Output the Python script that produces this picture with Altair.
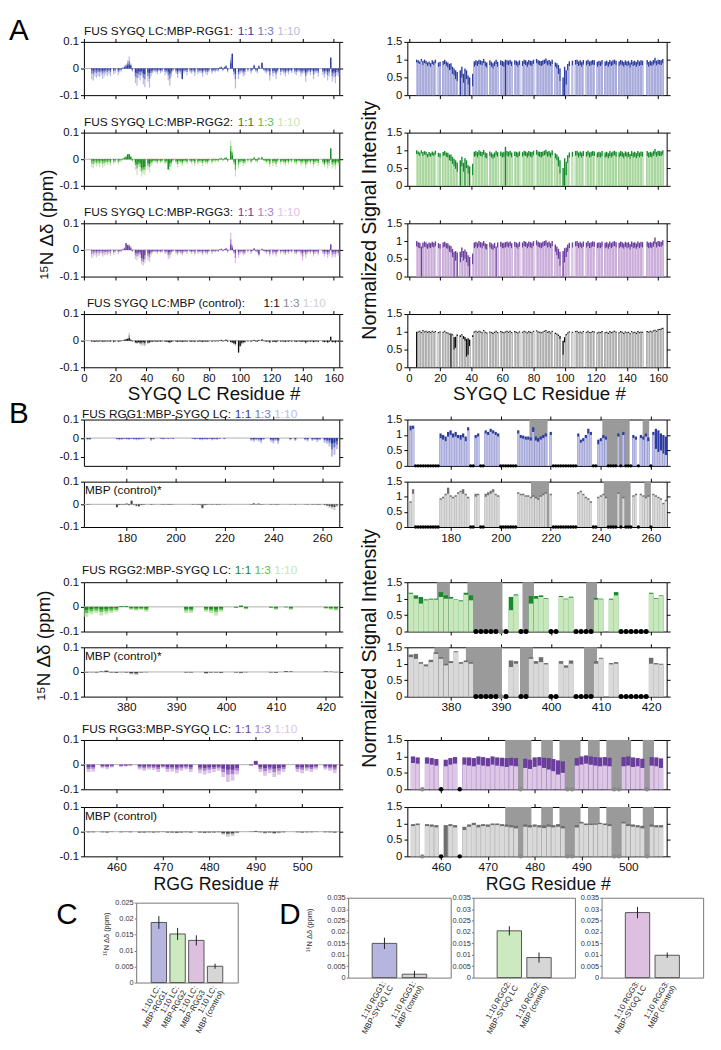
import altair as alt
import pandas as pd

N = None
FONT = "Liberation Sans"
W, H = 628, 954

# ---------------- colours (1:10 light, 1:3 mid, 1:1 dark) ----------------
RGG1_C = ["#babbe3", "#6f79c9", "#2b3b9f"]
RGG2_C = ["#c5e6b6", "#5cbf4a", "#178a2c"]
RGG3_C = ["#dcc2e5", "#a57fcc", "#6a3d9e"]
CTRL_C = ["#cfcfcf", "#8c8c8c", "#111111"]
INT_C = {"r1": ["#c3c3e7", "#2b3b9f"], "r2": ["#c8e7ba", "#178a2c"],
         "r3": ["#dec6e6", "#6a3d9e"], "c": ["#d5d5d5", "#111111"]}
B_CTRL_CSP = ["#c8c8c8", "#444444"]
B_CTRL_INT = ["#d9d9d9", "#6e6e6e"]
REGION_C = "#9a9a9a"

# ---------------- Panel A data (residues 5..163; ppm x 1000 / intensity x 100) ----------------
A_RES = list(range(5, 164))
A_TICKS = [0, 20, 40, 60, 80, 100, 120, 140, 160]

A1_CSP_L = [-40,-45,-30,-35,-28,-32,-25,-38,-30,-22,
 -28,-20,-30,N,-22,-18,N,-25,-15,-10,
 5,12,18,30,45,20,-12,N,-55,-65,
 -35,-45,-25,-60,-70,N,-50,-72,-30,-18,
 -12,-15,-22,-10,-18,-14,N,-25,-18,-45,
 -65,-30,-12,N,-20,-35,-15,-22,-40,-18,
 -12,-25,N,-15,-20,-12,-28,N,-22,-15,
 -18,-30,-12,-20,-25,-15,N,-20,-10,-15,
 -8,-12,5,8,-10,6,12,-15,N,40,
 55,-25,-75,N,-40,-20,-15,-30,-25,N,
 -12,N,-20,-8,15,-12,-18,12,N,20,
 -8,-15,-20,-12,-45,N,-30,-18,-40,-15,
 N,-25,-12,-20,-30,-15,-22,-10,-18,N,
 -20,-25,-15,-12,-30,-20,-18,-50,-22,-15,
 -25,-12,-40,-20,-15,-30,N,N,-25,-35,
 -20,-45,-30,40,-50,-35,-55,-25,-30]
A1_CSP_M = [-18,-22,-14,-17,-13,-15,-12,-18,-14,-10,
 -13,-9,-14,N,-10,-8,N,-12,-7,-5,
 3,7,12,20,28,14,-7,N,-30,-35,
 -20,-25,-14,-35,-40,N,-28,-38,-16,-10,
 -7,-8,-12,-6,-10,-8,N,-13,-10,-25,
 -38,-16,-7,N,-11,-20,-8,-12,-40,-10,
 -7,-13,N,-8,-11,-7,-15,N,-12,-8,
 -10,-16,-7,-11,-13,-8,N,-11,-6,-8,
 -4,-7,4,6,-6,5,10,-8,N,30,
 55,-14,-40,N,-22,-11,-8,-16,-13,N,
 -7,N,-11,-4,12,-7,-10,10,N,22,
 -4,-8,-11,-7,-25,N,-16,-10,-22,-8,
 N,-13,-7,-11,-16,-8,-12,-6,-10,N,
 -11,-13,-8,-7,-16,-11,-10,-28,-12,-8,
 -13,-7,-22,-11,-8,-16,N,N,-13,-19,
 -11,-25,-16,40,-28,-19,-30,-13,-16]
A1_CSP_D = [-5,-8,-4,-6,-5,-7,-4,-8,-6,-4,
 -5,-3,-6,N,-4,-3,N,-5,-3,-2,
 2,4,8,12,15,10,-4,N,-15,-18,
 -10,-12,-8,-20,-22,N,-15,-18,-8,-5,
 -3,-4,-6,-3,-5,-4,N,-6,-5,-12,
 -20,-8,-3,N,-5,-10,-4,-6,-38,-5,
 -3,-6,N,-4,-5,-3,-7,N,-5,-4,
 -5,-8,-3,-5,-6,-4,N,-5,-3,-4,
 -2,-3,3,5,-3,4,8,-4,N,20,
 55,-8,-20,N,-12,-5,-4,-8,-6,N,
 -3,N,-5,-2,10,-3,-5,8,N,22,
 -2,-4,-5,-3,-10,N,-8,-5,-12,-4,
 N,-6,-3,-5,-8,-4,-6,-3,-5,N,
 -5,-6,-4,-3,-8,-5,-4,-15,-6,-4,
 -6,-3,-10,-5,-4,-8,N,N,-6,-10,
 -5,-12,-8,40,-15,-10,-15,-6,-8]

A2_CSP_L = [-30,-35,-20,-28,-22,-30,-18,-32,-25,-20,
 -22,-18,-25,N,-20,-15,N,-20,-12,-8,
 5,10,15,20,18,12,-10,N,-40,-60,
 -30,-45,-65,-55,-60,N,-40,-50,-25,-15,
 -10,-12,-18,-8,-15,-12,N,-20,-15,-40,
 -45,-25,-10,N,-18,-30,-12,-18,-25,-15,
 -10,-20,N,-12,-18,-10,-25,N,-20,-12,
 -15,-25,-10,-18,-20,-12,N,-18,-8,-12,
 -6,-10,4,6,-8,5,10,-12,N,70,
 35,-20,-65,N,-35,-18,-12,-25,-20,N,
 -10,N,-18,-6,10,-10,-15,8,N,10,
 -6,-12,-18,-10,-30,N,-25,-15,-30,-12,
 N,-20,-10,-18,-25,-12,-20,-8,-15,N,
 -18,-22,-12,-10,-25,-18,-15,-35,-20,-12,
 -20,-10,-30,-18,-12,-25,N,N,-20,-30,
 -18,-35,-25,40,-35,-28,-38,-20,-25]
A2_CSP_M = [-15,-18,-10,-14,-11,-15,-9,-16,-13,-10,
 -11,-9,-13,N,-10,-8,N,-10,-6,-4,
 3,6,10,19,19,10,-6,N,-22,-35,
 -18,-28,-45,-40,-40,N,-25,-30,-15,-9,
 -6,-7,-11,-5,-9,-7,N,-12,-9,-39,
 -28,-15,-6,N,-10,-18,-7,-10,-15,-8,
 -6,-11,N,-7,-10,-6,-14,N,-12,-7,
 -9,-14,-6,-10,-12,-7,N,-10,-4,-6,
 -4,-6,3,4,-4,4,7,-7,N,50,
 25,-12,-40,N,-20,-10,-7,-14,-12,N,
 -6,N,-10,-4,7,-6,-8,6,N,8,
 -4,-7,-10,-6,-18,N,-14,-8,-18,-7,
 N,-11,-6,-10,-14,-7,-11,-4,-8,N,
 -10,-12,-7,-6,-14,-10,-8,-20,-11,-7,
 -11,-6,-18,-10,-7,-14,N,N,-11,-20,
 -10,-20,-14,40,-20,-15,-22,-11,-14]
A2_CSP_D = [-5,-6,-3,-5,-4,-6,-3,-6,-5,-4,
 -4,-3,-5,N,-4,-3,N,-4,-2,-1,
 2,4,8,18,20,8,-3,N,-12,-20,
 -10,-15,-35,-30,-28,N,-15,-18,-8,-5,
 -3,-4,-6,-2,-5,-4,N,-6,-5,-38,
 -15,-8,-3,N,-5,-9,-4,-5,-8,-4,
 -3,-6,N,-4,-5,-3,-7,N,-6,-3,
 -4,-7,-3,-5,-6,-3,N,-5,-2,-3,
 -2,-3,2,3,-2,3,5,-3,N,30,
 15,-6,-20,N,-10,-5,-3,-7,-6,N,
 -3,N,-5,-2,5,-3,-4,4,N,6,
 -2,-3,-5,-3,-8,N,-7,-4,-9,-3,
 N,-6,-3,-5,-7,-3,-6,-2,-4,N,
 -5,-6,-3,-3,-7,-5,-4,-10,-6,-3,
 -6,-3,-8,-5,-3,-7,N,N,-6,-15,
 -5,-10,-7,40,-10,-8,-12,-6,-7]

A3_CSP_L = [-30,-25,-20,-28,-22,-20,-15,-25,-20,-18,
 -20,-15,-22,N,-18,-12,N,-15,-10,-8,
 5,10,25,20,22,15,-8,N,-35,-40,
 -25,-30,-55,-58,-50,N,-40,-45,-20,-12,
 -8,-10,-15,-8,-12,-10,N,-15,-12,-35,
 -30,-15,-8,N,-15,-20,-10,-15,-20,-12,
 -8,-15,N,-10,-15,-8,-20,N,-15,-10,
 -12,-20,-8,-15,-18,-10,N,-15,-6,-10,
 -5,-8,3,5,-6,4,8,-10,N,65,
 20,-15,-50,N,-30,-15,-10,-20,-18,N,
 -8,N,-15,-5,8,-8,-12,-25,N,5,
 -5,-10,-15,-8,-25,N,-20,-12,-25,-10,
 N,-15,-8,-15,-20,-10,-15,-6,-12,N,
 -15,-18,-10,-8,-20,-40,-12,-30,-15,-10,
 -15,-8,-25,-15,-10,-20,N,N,-15,-25,
 -15,-30,-20,20,-30,-25,-28,-15,-22]
A3_CSP_M = [-14,-12,-10,-13,-10,-10,-7,-12,-10,-9,
 -10,-7,-11,N,-9,-6,N,-8,-5,-4,
 3,7,25,19,18,10,-5,N,-20,-24,
 -15,-18,-42,-45,-35,N,-24,-28,-12,-7,
 -5,-6,-9,-5,-7,-6,N,-9,-7,-20,
 -18,-9,-5,N,-9,-12,-6,-9,-12,-7,
 -5,-9,N,-6,-9,-5,-12,N,-9,-6,
 -7,-12,-5,-9,-11,-6,N,-9,-4,-6,
 -3,-5,2,4,-4,3,6,-6,N,40,
 14,-9,-30,N,-18,-9,-6,-12,-11,N,
 -5,N,-9,-3,6,-5,-7,-20,N,4,
 -3,-6,-9,-5,-15,N,-12,-7,-15,-6,
 N,-9,-5,-9,-12,-6,-9,-4,-7,N,
 -9,-11,-6,-5,-12,-25,-7,-18,-9,-6,
 -9,-5,-15,-9,-6,-12,N,N,-9,-15,
 -9,-18,-12,20,-18,-14,-16,-9,-13]
A3_CSP_D = [-4,-3,-3,-4,-3,-3,-2,-4,-3,-3,
 -3,-2,-3,N,-3,-2,N,-2,-2,-1,
 2,5,25,18,15,6,-2,N,-10,-12,
 -8,-10,-30,-35,-20,N,-12,-14,-6,-4,
 -2,-3,-4,-2,-3,-3,N,-4,-3,-10,
 -8,-4,-2,N,-4,-5,-3,-4,-5,-3,
 -2,-4,N,-3,-4,-2,-5,N,-4,-3,
 -3,-5,-2,-4,-5,-3,N,-4,-2,-3,
 -1,-2,2,3,-2,2,4,-3,N,20,
 8,-4,-12,N,-8,-4,-3,-5,-5,N,
 -2,N,-4,-2,4,-2,-3,-15,N,3,
 -2,-3,-4,-2,-7,N,-5,-3,-7,-3,
 N,-4,-2,-4,-5,-3,-4,-2,-3,N,
 -4,-5,-3,-2,-5,-10,-3,-8,-4,-3,
 -4,-2,-7,-4,-3,-5,N,N,-4,-7,
 -4,-8,-5,20,-8,-6,-7,-4,-6]

A4_CSP_L = [-5,-4,-6,-3,-5,-4,-3,-6,-5,-3,
 -4,-3,-5,N,-8,-4,N,-5,-3,-2,
 2,5,8,10,30,5,-3,N,-10,-12,
 -8,-15,-20,-18,-22,N,-12,-10,-5,-4,
 -3,-4,-5,-3,-4,-3,N,-5,-4,-8,
 -10,-6,-3,N,-4,-6,-3,-5,-6,-4,
 -3,-5,N,-4,-5,-3,-6,N,-5,-3,
 -4,-6,-3,-5,-5,-3,N,-4,-2,-3,
 -2,-3,2,3,-3,2,4,-4,N,-8,
 -10,-15,-20,N,-35,-25,-18,-12,-8,N,
 -3,N,-4,-2,3,-3,-4,3,N,5,
 -2,-3,-5,-3,-10,N,-6,-4,-8,-3,
 N,-5,-3,-4,-6,-3,-5,-2,-4,N,
 -5,-6,-3,-3,-6,-4,-4,-12,-5,-3,
 -5,-3,-8,-4,-3,-6,N,N,-5,-8,
 -4,-10,-6,15,-8,-6,-10,-4,-6]
A4_CSP_M = [-4,-3,-5,-3,-4,-3,-3,-5,-4,-3,
 -3,-3,-4,N,-6,-3,N,-4,-3,-2,
 2,4,6,8,20,4,-3,N,-8,-10,
 -7,-12,-12,-10,-15,N,-10,-8,-4,-4,
 -3,-4,-4,-3,-4,-3,N,-4,-4,-6,
 -8,-5,-3,N,-4,-5,-3,-4,-5,-4,
 -3,-4,N,-4,-4,-3,-5,N,-4,-3,
 -4,-5,-3,-4,-4,-3,N,-4,-2,-3,
 -2,-3,2,3,-3,2,4,-4,N,-6,
 -8,-12,-15,N,-40,-22,-12,-9,-6,N,
 -3,N,-4,-2,3,-3,-4,3,N,5,
 -2,-3,-4,-3,-8,N,-5,-4,-6,-3,
 N,-4,-3,-4,-5,-3,-4,-2,-4,N,
 -4,-5,-3,-3,-5,-4,-4,-10,-4,-3,
 -4,-3,-6,-4,-3,-5,N,N,-4,-6,
 -4,-8,-5,15,-6,-5,-8,-4,-5]
A4_CSP_D = [-3,-2,-4,-2,-3,-2,-2,-3,-3,-2,
 -2,-2,-3,N,-4,-2,N,-3,-2,-1,
 1,3,5,6,10,3,-2,N,-6,-8,
 -5,-8,-6,-5,-8,N,-7,-6,-3,-3,
 -2,-3,-3,-2,-3,-2,N,-3,-3,-5,
 -6,-4,-2,N,-3,-4,-2,-3,-4,-3,
 -2,-3,N,-3,-3,-2,-4,N,-3,-2,
 -3,-4,-2,-3,-3,-2,N,-3,-1,-2,
 -1,-2,1,2,-2,1,3,-3,N,-5,
 -6,-10,-12,N,-45,-20,-8,-6,-5,N,
 -2,N,-3,-1,2,-2,-3,2,N,4,
 -1,-2,-3,-2,-6,N,-4,-3,-5,-2,
 N,-3,-2,-3,-4,-2,-3,-1,-3,N,
 -3,-4,-2,-2,-4,-3,-3,-7,-3,-2,
 -3,-2,-5,-3,-2,-4,N,N,-3,-5,
 -3,-6,-4,15,-5,-4,-6,-3,-4]

A1_INT_L = [92,90,88,95,85,90,88,82,86,80,
 88,85,90,N,80,82,N,85,88,83,
 78,70,72,60,55,45,40,N,0,50,
 35,0,45,30,0,N,25,80,85,82,
 88,86,84,90,82,78,N,85,80,75,
 82,88,80,N,85,82,80,0,86,84,
 88,82,N,86,84,80,85,N,82,88,
 85,80,86,84,82,88,N,90,86,84,
 82,85,88,90,84,86,82,88,N,80,
 75,60,40,N,0,0,30,70,82,N,
 84,N,86,88,82,85,80,86,N,84,
 88,82,84,86,85,N,80,84,82,86,
 N,82,84,80,86,82,85,88,84,N,
 82,86,84,80,85,82,84,78,86,82,
 84,80,86,82,85,84,N,N,86,80,
 84,82,86,90,84,88,86,85,90]
A1_INT_D = [100,98,95,102,96,100,97,92,95,90,
 98,95,100,N,92,94,N,96,100,95,
 92,88,90,80,75,70,65,N,70,80,
 60,75,70,55,50,N,60,95,98,96,
 100,98,96,102,95,92,N,98,94,90,
 95,100,94,N,98,96,94,100,98,97,
 100,95,N,98,97,94,98,N,96,100,
 98,94,99,97,96,100,N,102,98,97,
 96,98,100,103,97,99,95,100,N,92,
 90,85,75,N,50,80,70,88,95,N,
 97,N,99,100,95,98,94,99,N,97,
 100,95,97,99,98,N,94,97,95,99,
 N,95,97,93,99,95,98,100,97,N,
 95,99,97,93,98,95,97,92,99,95,
 97,93,99,95,98,97,N,N,99,93,
 97,95,99,105,97,100,99,98,102]
A2_INT_L = [90,88,85,92,84,88,86,80,85,82,
 86,84,88,N,82,80,N,84,86,82,
 80,72,70,62,55,48,40,N,0,55,
 40,0,50,35,0,N,30,82,85,80,
 86,84,82,88,80,78,N,84,80,76,
 80,86,82,N,84,80,82,0,85,82,
 86,80,N,84,82,80,84,N,82,86,
 84,80,85,82,80,86,N,88,84,82,
 80,84,86,88,82,85,80,86,N,78,
 72,55,35,N,0,0,30,65,80,N,
 82,N,85,86,80,84,80,84,N,82,
 86,80,82,85,84,N,80,82,80,84,
 N,80,82,78,84,80,84,86,82,N,
 80,84,82,78,84,80,82,76,84,80,
 82,78,84,80,84,82,N,N,84,80,
 82,80,84,88,82,86,84,84,88]
A2_INT_D = [100,97,94,100,95,98,96,90,95,92,
 97,94,99,N,93,92,N,95,98,94,
 93,88,88,82,76,72,66,N,72,82,
 65,78,72,58,55,N,62,96,98,95,
 100,97,95,101,94,92,N,97,94,90,
 94,99,95,N,97,94,96,110,98,96,
 99,94,N,97,96,94,97,N,95,99,
 97,94,98,96,95,99,N,101,97,96,
 95,97,99,102,96,98,94,100,N,92,
 88,82,72,N,50,78,68,86,94,N,
 96,N,98,99,94,97,94,98,N,96,
 99,94,96,98,97,N,94,96,94,98,
 N,94,96,92,98,94,97,99,96,N,
 94,98,96,92,97,94,96,90,98,94,
 96,92,98,94,97,96,N,N,98,94,
 96,94,98,104,96,99,98,97,100]
A3_INT_L = [85,82,80,0,80,84,82,78,82,80,
 84,82,85,N,80,78,N,82,84,80,
 78,70,68,55,0,45,0,N,40,55,
 45,50,40,30,0,N,35,80,84,80,
 85,82,80,86,78,76,N,82,78,75,
 80,0,82,N,84,80,80,82,85,82,
 86,80,N,84,82,78,84,N,82,86,
 84,80,85,82,80,86,N,88,84,82,
 80,84,86,88,82,85,80,86,N,70,
 60,50,30,N,0,40,55,70,80,N,
 82,N,85,86,80,84,80,84,N,82,
 86,80,82,85,84,N,80,82,80,84,
 N,80,82,78,84,80,84,86,82,N,
 80,84,82,78,84,80,82,76,84,80,
 82,78,84,80,84,82,N,N,84,80,
 82,80,84,92,82,86,84,84,88]
A3_INT_D = [100,97,95,85,95,99,96,92,96,94,
 98,95,99,N,94,92,N,96,98,94,
 94,88,86,78,70,72,68,N,70,82,
 72,76,70,60,55,N,65,96,98,95,
 100,97,95,100,94,92,N,97,94,90,
 95,85,96,N,98,95,95,97,99,96,
 99,94,N,98,96,93,98,N,96,100,
 98,94,99,97,95,100,N,102,98,96,
 95,98,100,102,96,99,94,100,N,90,
 85,78,70,N,72,80,82,90,95,N,
 96,N,99,100,95,98,94,99,N,96,
 100,95,97,99,98,N,95,97,95,99,
 N,95,97,93,99,95,98,100,97,N,
 95,99,97,93,98,95,97,92,99,95,
 97,93,99,95,98,97,N,N,99,95,
 97,95,99,110,97,100,99,98,102]
A4_INT_L = [0,98,100,96,102,98,100,97,99,96,
 100,97,99,N,96,98,N,97,100,96,
 95,92,0,90,50,55,88,N,85,90,
 80,75,30,35,60,N,85,98,100,97,
 100,98,96,102,97,95,N,98,96,94,
 97,100,96,N,99,97,96,98,100,97,
 100,96,N,99,97,95,98,N,97,100,
 98,95,99,97,96,100,N,101,98,97,
 96,98,100,102,97,99,95,100,N,94,
 92,88,80,N,35,70,90,95,98,N,
 97,N,99,100,96,98,95,99,N,97,
 100,96,97,99,98,N,95,97,96,99,
 N,96,97,94,99,96,98,100,97,N,
 96,99,97,94,98,96,97,93,99,96,
 97,94,99,96,98,97,N,N,99,97,
 100,98,101,103,100,104,105,106,108]
A4_INT_D = [100,101,103,99,105,101,103,100,102,99,
 103,100,102,N,99,101,N,100,103,99,
 98,95,95,93,85,86,92,N,90,93,
 88,85,80,82,78,N,90,101,103,100,
 103,101,99,105,100,98,N,101,99,97,
 100,103,99,N,102,100,99,101,103,100,
 103,99,N,102,100,98,101,N,100,103,
 101,98,102,100,99,103,N,104,101,100,
 99,101,103,105,100,102,98,103,N,97,
 95,92,88,N,75,85,94,98,101,N,
 100,N,102,103,99,101,98,102,N,100,
 103,99,100,102,101,N,98,100,99,102,
 N,99,100,97,102,99,101,103,100,N,
 99,102,100,97,101,99,100,96,102,99,
 100,97,102,99,101,100,N,N,102,100,
 103,101,104,106,103,107,108,109,111]

# ---------------- Panel B data ----------------
RGG1_RES = [164, 165,
 176, 177, 178, 179, 180, 181, 182, 183, 184, 185, 186, 187,
 190, 191,
 194, 195, 196, 197, 198, 199,
 207, 208, 209, 210, 211, 212, 213, 214, 215, 216, 217, 218,
 220,
 231, 232, 233, 234, 235, 236,
 239, 240, 241, 242,
 247, 249,
 253, 254,
 256, 257, 258, 259,
 261, 262, 263, 264, 265, 266]
RGG1_CSP_L = [-12, -10, -8, -12, -10, -6, -8, -10, -5, -8, -12, -10, -8, -6, -15, -8,
 -5, -8, -4, -6, -3, -5, -5, -8, -6, -10, -12, -8, -10, -6, -12, -8, -10, -5, -6,
 -15, -20, -12, -18, -25, -10, -20, -28, -15, -30, -12, -15, -12, -18,
 -15, -10, -20, -12, -25, -30, -45, -100, -90, -60]
RGG1_CSP_M = [-6, -5, -4, -6, -5, -3, -4, -5, -3, -4, -6, -5, -4, -3, -8, -4,
 -3, -4, -2, -3, -2, -3, -3, -4, -3, -5, -6, -4, -5, -3, -6, -4, -5, -3, -3,
 -8, -10, -6, -9, -12, -5, -10, -14, -8, -15, -6, -8, -6, -9,
 -8, -5, -10, -6, -12, -15, -25, -60, -50, -35]
RGG1_CSP_D = [-4, -3, -3, -4, -3, -2, -3, -3, -2, -3, -4, -3, -3, -2, -4, -3,
 -2, -3, -1, -2, -1, -2, -2, -3, -2, -3, -4, -3, -3, -2, -4, -3, -3, -2, -2,
 -4, -5, -3, -4, -6, -3, -5, -7, -4, -8, -3, -4, -3, -5,
 -4, -3, -5, -3, -6, -8, -12, -30, -25, -15]
MBP1_CSP_L = [-3, -2, -15, -5, -3, -4, 5, -6, 20, -4, -10, -12, -5, -3, -3, -2,
 -2, -3, -2, -3, -4, -2, -3, -2, -4, -3, -20, -5, -3, -2, -3, -2, -4, -3, -2,
 -3, 5, -2, 4, -3, -2, -3, -2, -4, -3, -2, -3, -2, -3,
 -3, -2, -4, -3, -5, -8, -15, -20, -25, -10]
MBP1_CSP_D = [-2, -1, -12, -3, -2, -2, 3, -3, 15, -2, -6, -8, -3, -2, -2, -1,
 -1, -2, -1, -2, -2, -1, -2, -1, -2, -2, -15, -3, -2, -1, -2, -1, -2, -2, -1,
 -2, 4, -1, 3, -2, -1, -2, -1, -2, -2, -1, -2, -1, -2,
 -2, -1, -2, -2, -3, -5, -8, -10, -12, -5]
RGG1_INT_L = [115, 120, 90, 85, 80, 95, 100, 92, 95, 90, 85, 92, 80, 115, 90, 95,
 105, 100, 110, 105, 100, 95, 105, 90, 88, 85, 85, 82, 110, 82, 78, 85, 90, 95, 100,
 95, 75, 80, 90, 105, 100, 70, 80, 90, 85, 95, 100, 90, 85,
 90, 85, 95, 80, 100, 55, 45, 50, 40, 35]
RGG1_INT_D = [130, 130, 105, 100, 95, 110, 115, 105, 110, 100, 100, 105, 95, 125, 100, 105,
 115, 110, 120, 115, 110, 105, 115, 100, 98, 95, 95, 92, 125, 95, 90, 95, 100, 105, 110,
 105, 85, 90, 100, 120, 110, 85, 90, 100, 95, 105, 110, 100, 95,
 100, 95, 105, 92, 110, 120, 115, 105, 100, 95]
MBP1_INT_L = [80, 110, 90, 95, 105, 110, 100, 95, 100, 110, 115, 110, 105, 95, 100, 105,
 100, 105, 110, 115, 105, 100, 110, 105, 105, 100, 100, 95, 100, 95, 90, 100, 105, 110, 105,
 110, 115, 105, 95, 90, 80, 95, 100, 105, 95, 110, 95, 100, 105,
 105, 100, 95, 100, 105, 100, 95, 90, 75, 85]
MBP1_INT_D = [85, 125, 95, 100, 110, 130, 105, 100, 105, 115, 120, 125, 110, 100, 110, 110,
 110, 115, 120, 125, 110, 105, 115, 110, 110, 105, 105, 100, 105, 100, 95, 105, 110, 115, 110,
 115, 120, 110, 100, 95, 85, 100, 105, 110, 100, 115, 100, 105, 110,
 110, 105, 100, 105, 110, 105, 100, 95, 80, 90]
RGG1_DOTS = [166, 167, 168, 169, 170, 171, 172, 173, 174, 175, 188, 189, 192, 193,
 200, 201, 202, 203, 204, 205, 206, 221, 222, 223, 224, 225, 226, 227, 228, 229, 230,
 237, 238, 243, 244, 245, 246, 248, 250, 251, 252, 255, 260]
RGG1_REG_TOP = [(211.5, 218.7), (240.6, 251.5), (256.7, 259.3)]
RGG1_REG_BOT = [(212.1, 219.3), (241.2, 251.9), (257.4, 260.0)]

RGG2_RES = [372, 373, 374, 375, 376, 377, 378, 379, 380, 381, 382, 383, 384,
 392, 393, 396, 397, 398, 399, 402, 403, 404, 409, 410, 412, 413, 420, 421, 422]
RGG2_CSP_L = [-40, -30, -25, -35, -30, -25, -20, 2, 3, -12, -15, -12, -20,
 -25, -25, -20, -25, -35, -20, -5, 5, -10, -5, -12, -3, -12, -8, -12, -15]
RGG2_CSP_M = [-25, -18, -15, -20, -18, -15, -12, 2, 3, -8, -10, -8, -12,
 -15, -15, -12, -15, -20, -12, -4, 4, -7, -4, -8, -2, -8, -5, -8, -10]
RGG2_CSP_D = [-12, -8, -6, -10, -8, -6, -5, 3, 3, -4, -5, -4, -6,
 -8, -8, -6, -8, -10, -6, -2, 5, -4, -2, -4, -1, -4, -3, -4, -5]
MBP2_CSP_L = [-3, -2, -3, 2, 5, -3, -4, -2, -3, -10, -12, -3, -2,
 -3, -3, -8, -4, -3, -5, -4, -6, -2, -3, -4, 4, 3, 2, 2, -2]
MBP2_CSP_D = [-2, -1, -2, 2, 5, -2, -3, -1, -2, -5, -6, -2, -1,
 -2, -2, -4, -2, -2, -3, -2, -3, -1, -2, -3, 3, 2, 2, 1, -1]
RGG2_INT_L = [115, 100, 85, 95, 97, 97, 105, 100, 100, 97, 92, 112, 95,
 65, 110, 85, 100, 105, 100, 105, 98, 103, 97, 98, 97, 110, 115, 100, 108]
RGG2_INT_D = [118, 110, 105, 98, 100, 100, 120, 110, 105, 98, 95, 118, 110,
 105, 113, 108, 108, 110, 102, 108, 100, 106, 102, 100, 100, 120, 118, 102, 110]
MBP2_INT_L = [120, 115, 100, 92, 105, 130, 115, 95, 102, 135, 100, 105, 100,
 90, 100, 115, 100, 105, 98, 100, 88, 100, 100, 115, 98, 100, 100, 98, 97]
MBP2_INT_D = [128, 130, 105, 98, 112, 135, 120, 100, 108, 138, 105, 110, 105,
 110, 108, 120, 108, 120, 102, 108, 95, 110, 108, 118, 102, 105, 118, 102, 100]
RGG2_DOTS = [385, 386, 387, 388, 389, 391, 394, 395, 400, 401, 405, 406, 407, 408,
 414, 415, 416, 417, 418, 419]
RGG2_DOTS_GREY = [390]
RGG2_REG_TOP = [(377.2, 379.8), (383.3, 390.3), (394.3, 396.6), (407.0, 409.2)]
RGG2_REG_BOT = [(376.7, 379.7), (383.0, 390.2), (393.8, 396.4), (406.6, 409.2)]

RGG3_RES = [454, 455, 457, 458, 459, 461, 462, 463, 465, 466, 467, 468, 469, 470, 471,
 472, 473, 474, 475, 476, 478, 479, 480, 481, 482, 483, 484, 485, 486, 489, 490, 491,
 492, 493, 494, 495, 496, 499, 500, 501, 502, 503, 505, 506, 507]
RGG3_CSP_L = [-30, -28, -15, -18, -12, -10, -8, -5, -20, -25, -20, -22, -30, -15, -30,
 -28, -35, -25, -20, -30, -35, -40, -35, -30, -25, -50, -70, -65, -40, -5, 15, -30,
 -45, -35, -50, -40, -30, -30, -35, -25, -30, -20, -20, -25, -35]
RGG3_CSP_M = [-18, -16, -9, -10, -7, -6, -5, -3, -12, -15, -12, -13, -18, -9, -18,
 -16, -20, -15, -12, -18, -20, -24, -20, -18, -15, -30, -40, -38, -24, -3, 15, -18,
 -26, -20, -30, -24, -18, -18, -20, -15, -18, -12, -12, -15, -20]
RGG3_CSP_D = [-10, -9, -5, -6, -4, -3, -3, -2, -6, -8, -6, -7, -10, -5, -10,
 -9, -11, -8, -6, -10, -11, -13, -11, -10, -8, -16, -20, -20, -13, -2, 15, -10,
 -14, -11, -16, -13, -10, -10, -11, -8, -10, -6, -6, -8, -11]
MBP3_CSP_L = [-4, -3, -3, -4, -2, -3, -2, -3, -5, -4, -3, -4, -3, -2, -4,
 -5, -6, -4, -3, -5, -4, -6, -5, -4, -3, -12, -20, -18, -6, -2, 3, -4,
 -8, -5, -10, -6, -4, -3, -5, -4, -3, -2, -3, -4, -5]
MBP3_CSP_D = [-2, -2, -2, -3, -1, -2, -1, -2, -3, -3, -2, -3, -2, -1, -3,
 -3, -4, -3, -2, -3, -3, -4, -3, -3, -2, -6, -8, -7, -3, -1, 3, -2,
 -4, -3, -5, -3, -2, -2, -3, -2, -2, -1, -2, -2, -3]
RGG3_INT_L = [80, 78, 78, 75, 72, 70, 75, 78, 75, 72, 70, 75, 72, 70, 75,
 72, 70, 68, 72, 70, 65, 62, 68, 72, 65, 60, 55, 45, 50, 72, 75, 78,
 75, 72, 70, 72, 70, 70, 72, 68, 70, 65, 72, 70, 65]
RGG3_INT_D = [100, 97, 97, 95, 92, 90, 95, 98, 97, 97, 95, 100, 98, 95, 100,
 97, 96, 95, 96, 95, 93, 90, 97, 98, 96, 95, 92, 88, 85, 95, 100, 103,
 100, 98, 97, 98, 96, 98, 100, 97, 95, 93, 98, 97, 94]
MBP3_INT_L = [92, 95, 92, 90, 88, 0, 92, 88, 80, 90, 95, 88, 92, 90, 95,
 95, 92, 90, 88, 85, 90, 88, 90, 88, 86, 90, 88, 90, 85, 88, 100, 95,
 95, 96, 98, 95, 92, 100, 92, 90, 88, 85, 90, 88, 88]
MBP3_INT_D = [98, 100, 98, 97, 95, 95, 98, 95, 90, 97, 102, 96, 98, 97, 100,
 100, 98, 97, 95, 93, 97, 95, 97, 95, 94, 97, 95, 98, 92, 95, 105, 100,
 100, 100, 102, 100, 98, 105, 98, 97, 95, 93, 97, 95, 95]
RGG3_DOTS = [460, 464]
RGG3_DOTS_GREY = [456, 477, 487, 488, 497, 498, 504]
RGG3_REG = [(473.7, 479.3), (481.4, 483.9), (485.3, 489.8), (491.4, 493.9),
 (495.3, 500.6), (503.1, 505.5)]

# ---------------- Panels C / D ----------------
C_CATS = ["1:10 LC:|MBP-RGG1", "1:10 LC:|MBP-RGG2", "1:10 LC:|MBP-RGG3", "1:10 LC:|MBP (control)"]
C_VALS = [0.0188, 0.0152, 0.0132, 0.0051]
C_ERRS = [0.0020, 0.0019, 0.0016, 0.0008]
C_COLS = ["#b5b5df", "#cde9c0", "#ddbfe0", "#d6d6d6"]
D_CATS = [["1:10 RGG1:|MBP-SYGQ LC", "1:10 RGG1:|MBP (control)"],
          ["1:10 RGG2:|MBP-SYGQ LC", "1:10 RGG2:|MBP (control)"],
          ["1:10 RGG3:|MBP-SYGQ LC", "1:10 RGG3:|MBP (control)"]]
D_VALS = [[0.0150, 0.0015], [0.0205, 0.0088], [0.0285, 0.0098]]
D_ERRS = [[0.0025, 0.0015], [0.0020, 0.0022], [0.0025, 0.0012]]
D_COLS = [["#b5b5df", "#d6d6d6"], ["#cde9c0", "#d6d6d6"], ["#ddbfe0", "#d6d6d6"]]

# ---------------- geometry (pixels, relative to plot origin) ----------------
LX, RX = [0, 259], [328, 591]
A_Y = [(0, 54), (92, 146), (184, 238), (276, 330)]
B1_Y = [(383, 430), (446, 492)]
B2_Y = [(548, 598), (614, 664)]
B3_Y = [(708, 758), (776, 826)]
C_X, C_Y = [53, 156], (873, 954)
D_X, D_Y = [[268, 372], [395, 498], [525, 628]], (868, 949)

CSP_TICKS = [-0.1, 0, 0.1]
INT_TICKS = [0, 0.5, 1, 1.5]
MINUS = "datum.value < 0 ? '-' + format(-datum.value, '.1~f') : format(datum.value, '.1~f')"
INTFMT = "format(datum.value, '.1~f')"


def xsc(dom, rng):
    return alt.Scale(domain=dom, range=rng, nice=False, zero=False)


def ysc(dom, yr):
    return alt.Scale(domain=dom, range=[yr[1], yr[0]], nice=False, zero=False)


def axis(orient, offset, values, labels=False, expr=None, size=11.5):
    kw = dict(orient=orient, offset=offset, values=values, labels=labels, title=None,
              tickSize=3.5, grid=False, labelFlush=False)
    if labels:
        kw["labelFontSize"] = size
        if expr:
            kw["labelExpr"] = expr
    return alt.Axis(**kw)


def bar_layer(res, vals, unit, half, color, xs_, ys_, xa=None, ya=None):
    rows = [{"lo": r - half, "hi": r + half, "z": 0.0, "v": v * unit}
            for r, v in zip(res, vals) if v is not None]
    df = pd.DataFrame(rows)
    return alt.Chart(df).mark_rect(color=color).encode(
        x=alt.X("lo:Q", scale=xs_, axis=xa), x2="hi:Q",
        y=alt.Y("z:Q", scale=ys_, axis=ya), y2="v:Q")


def zero_rule(xdom, xs_, ys_):
    df = pd.DataFrame({"a": [xdom[0]], "b": [xdom[1]], "z": [0.0]})
    return alt.Chart(df).mark_rule(color="#b0b0b0", strokeWidth=1).encode(
        x=alt.X("a:Q", scale=xs_, axis=None), x2="b:Q",
        y=alt.Y("z:Q", scale=ys_, axis=None))


def region_layer(regions, xs_, ys_):
    df = pd.DataFrame([{"a": a, "b": b, "y0": 0.0, "y1": 1.5} for a, b in regions])
    return alt.Chart(df).mark_rect(color=REGION_C).encode(
        x=alt.X("a:Q", scale=xs_, axis=None), x2="b:Q",
        y=alt.Y("y0:Q", scale=ys_, axis=None), y2="y1:Q")


def dot_layer(res, color, size, xs_, ys_):
    df = pd.DataFrame({"r": res, "z": [0.0] * len(res)})
    return alt.Chart(df).mark_circle(color=color, size=size, opacity=1).encode(
        x=alt.X("r:Q", scale=xs_, axis=None), y=alt.Y("z:Q", scale=ys_, axis=None))


def txt(s, x, y, size=12, color="#111111", angle=0, align="left", baseline="middle"):
    df = pd.DataFrame({"t": [s]})
    kw = dict(fontSize=size, color=color, align=align, baseline=baseline, font=FONT)
    if angle:
        kw["angle"] = angle
    return alt.Chart(df).mark_text(**kw).encode(text="t:N", x=alt.value(x), y=alt.value(y))


def csp_panel(res, series, colors, half, xdom, xr, ydom, yr, xticks, xlabels, xsize):
    xs_, ys_ = xsc(xdom, xr), ysc(ydom, yr)
    out = [zero_rule(xdom, xs_, ys_)]
    axes = [(axis("bottom", yr[1] - H, xticks, xlabels, None, xsize),
             axis("left", -xr[0], CSP_TICKS, True, MINUS)),
            (axis("top", -yr[0], xticks), axis("right", xr[1] - W, CSP_TICKS))]
    for i, (vals, col) in enumerate(zip(series, colors)):
        xa, ya = axes[i] if i < len(axes) else (None, None)
        out.append(bar_layer(res, vals, 0.001, half, col, xs_, ys_, xa, ya))
    return out


def int_panel(res, light, dark, cols, half, xdom, xr, yr, xticks, xlabels, xsize,
              regions=(), black=(), grey=(), dsize=14):
    xs_, ys_ = xsc(xdom, xr), ysc([0, 1.5], yr)
    out = []
    if regions:
        out.append(region_layer(regions, xs_, ys_))
    out.append(bar_layer(res, dark, 0.01, half, cols[1], xs_, ys_,
                         axis("top", -yr[0], xticks), axis("right", xr[1] - W, INT_TICKS)))
    out.append(bar_layer(res, light, 0.01, half, cols[0], xs_, ys_,
                         axis("bottom", yr[1] - H, xticks, xlabels, None, xsize),
                         axis("left", -xr[0], INT_TICKS, True, INTFMT)))
    if black:
        out.append(dot_layer(list(black), "#000000", dsize, xs_, ys_))
    if grey:
        out.append(dot_layer(list(grey), "#8a8a8a", dsize, xs_, ys_))
    return out


def summary_panel(cats, vals, errs, cols, xr, yr, ymax, yticks):
    xs_ = alt.Scale(domain=cats, range=xr, paddingInner=0.18, paddingOuter=0.8)
    ys_ = ysc([0, ymax], yr)
    df = pd.DataFrame({"c": cats, "v": vals, "z": [0.0] * len(cats),
                       "lo": [v - e for v, e in zip(vals, errs)],
                       "hi": [v + e for v, e in zip(vals, errs)], "col": cols})
    bars = alt.Chart(df).mark_bar(stroke="#555555", strokeWidth=1).encode(
        x=alt.X("c:N", scale=xs_, axis=alt.Axis(
            orient="bottom", offset=yr[1] - H, labelAngle=-60, labelAlign="right",
            labelBaseline="middle", labelFontSize=8, labelExpr="split(datum.label, '|')",
            ticks=False, domainColor="#777777", title=None, labelPadding=4,
            labelColor="#222222", labelLineHeight=8.5)),
        y=alt.Y("v:Q", scale=ys_, axis=alt.Axis(
            orient="left", offset=-xr[0], values=yticks, format=".3~f", labelFontSize=7.5,
            tickSize=2, domainColor="#777777", tickColor="#777777", labelColor="#333333",
            title=None, labelPadding=1, grid=False)),
        y2="z:Q",
        color=alt.Color("col:N", scale=None, legend=None))
    err = alt.Chart(df).mark_rule(color="#222222", strokeWidth=1).encode(
        x=alt.X("c:N", scale=xs_, axis=alt.Axis(
            orient="top", offset=-yr[0], labels=False, ticks=False,
            domainColor="#777777", title=None)),
        y=alt.Y("lo:Q", scale=ys_, axis=alt.Axis(
            orient="right", offset=xr[1] - W, labels=False, ticks=False,
            domainColor="#777777", title=None, grid=False)),
        y2="hi:Q")
    return [bars, err]


def title_parts(black, x0, y, px, cols):
    out = [txt(black, x0, y)]
    for p, x, c in zip(["1:1", "1:3", "1:10"], px, cols):
        out.append(txt(p, x, y, color=c))
    return out


layers = []

# ---------- A ----------
A_SETS = [
    ([A1_CSP_L, A1_CSP_M, A1_CSP_D], RGG1_C, A1_INT_L, A1_INT_D, INT_C["r1"], "FUS SYGQ LC:MBP-RGG1:"),
    ([A2_CSP_L, A2_CSP_M, A2_CSP_D], RGG2_C, A2_INT_L, A2_INT_D, INT_C["r2"], "FUS SYGQ LC:MBP-RGG2:"),
    ([A3_CSP_L, A3_CSP_M, A3_CSP_D], RGG3_C, A3_INT_L, A3_INT_D, INT_C["r3"], "FUS SYGQ LC:MBP-RGG3:"),
    ([A4_CSP_L, A4_CSP_M, A4_CSP_D], CTRL_C, A4_INT_L, A4_INT_D, INT_C["c"], "FUS SYGQ LC:MBP (control):"),
]
for i, (ser, cols, il, idk, icol, ttl) in enumerate(A_SETS):
    yr = A_Y[i]
    last = i == 3
    layers += csp_panel(A_RES, ser, cols, 0.4, [0, 163.5], LX, [-0.1, 0.1], yr, A_TICKS, last, 11.5)
    layers += int_panel(A_RES, il, idk, icol, 0.45, [-1, 165.5], RX, yr, A_TICKS, last, 11.5)
    if last:
        layers += title_parts(ttl, 3, yr[0] - 11, [182, 202, 222], ["#111111", "#8c8c8c", "#cfcfcf"])
    else:
        layers += title_parts(ttl, 0, yr[0] - 11, [156, 176, 196], [cols[2], cols[1], cols[0]])

# ---------- B ----------
B_SETS = [
    (RGG1_RES, [RGG1_CSP_L, RGG1_CSP_M, RGG1_CSP_D], [MBP1_CSP_L, MBP1_CSP_D], RGG1_C,
     RGG1_INT_L, RGG1_INT_D, MBP1_INT_L, MBP1_INT_D, INT_C["r1"], B1_Y,
     [162.5, 267], [162.7, 266.3], [180, 200, 220, 240, 260], [-0.15, 0.1],
     RGG1_REG_TOP, RGG1_REG_BOT, RGG1_DOTS, [], RGG1_DOTS, [], 11, 0.4,
     "FUS RGG1:MBP-SYGQ LC:", "MBP (control)*", 6),
    (RGG2_RES, [RGG2_CSP_L, RGG2_CSP_M, RGG2_CSP_D], [MBP2_CSP_L, MBP2_CSP_D], RGG2_C,
     RGG2_INT_L, RGG2_INT_D, MBP2_INT_L, MBP2_INT_D, INT_C["r2"], B2_Y,
     [371.5, 422.7], [371.3, 423.1], [380, 390, 400, 410, 420], [-0.1, 0.1],
     RGG2_REG_TOP, RGG2_REG_BOT, RGG2_DOTS, RGG2_DOTS_GREY, RGG2_DOTS, RGG2_DOTS_GREY, 26, 0.4,
     "FUS RGG2:MBP-SYGQ LC:", "MBP (control)*", 12),
    (RGG3_RES, [RGG3_CSP_L, RGG3_CSP_M, RGG3_CSP_D], [MBP3_CSP_L, MBP3_CSP_D], RGG3_C,
     RGG3_INT_L, RGG3_INT_D, MBP3_INT_L, MBP3_INT_D, INT_C["r3"], B3_Y,
     [453, 508], [452.8, 508.2], [460, 470, 480, 490, 500], [-0.1, 0.1],
     RGG3_REG, RGG3_REG, RGG3_DOTS, RGG3_DOTS_GREY, RGG3_DOTS, RGG3_DOTS_GREY, 20, 0.4,
     "FUS RGG3:MBP-SYGQ LC:", "MBP (control)", 11),
]
for (res, ser, cser, cols, il, idk, cl, cd, icol, ys2, ldom, rdom, ticks, topdom,
     rtop, rbot, dtop, gtop, dbot, gbot, dsz, half, ttl, ctl, tdy) in B_SETS:
    top, bot = ys2
    layers += csp_panel(res, ser, cols, half, ldom, LX, topdom, top, ticks, False, 12)
    layers += csp_panel(res, cser, B_CTRL_CSP, half, ldom, LX, [-0.1, 0.1], bot, ticks, True, 12)
    layers += int_panel(res, il, idk, icol, half + 0.05, rdom, RX, top, ticks, False, 12,
                        rtop, dtop, gtop, dsz)
    layers += int_panel(res, cl, cd, B_CTRL_INT, half + 0.05, rdom, RX, bot, ticks, True, 12,
                        rbot, dbot, gbot, dsz)
    layers += title_parts(ttl, -2, top[0] - tdy, [153, 173, 193], [cols[2], cols[1], cols[0]])
    layers.append(txt(ctl, 1, bot[0] + 9, 12))

# ---------- C / D ----------
layers += summary_panel(C_CATS, C_VALS, C_ERRS, C_COLS, C_X, C_Y, 0.025,
                        [0, 0.005, 0.01, 0.015, 0.02, 0.025])
for k in range(3):
    layers += summary_panel(D_CATS[k], D_VALS[k], D_ERRS[k], D_COLS[k], D_X[k], D_Y, 0.035,
                            [0, 0.005, 0.01, 0.015, 0.02, 0.025, 0.03, 0.035])

# ---------- labels ----------
BIG = 19
layers += [
    txt("A", -76, -2, 30, "#000000", baseline="alphabetic"),
    txt("B", -76, 387, 30, "#000000", baseline="alphabetic"),
    txt("C", -28, 895, 30, "#000000", baseline="alphabetic"),
    txt("D", 198, 895, 30, "#000000", baseline="alphabetic"),
    txt("¹⁵N Δδ (ppm)", -37, 185, BIG, angle=270, align="center"),
    txt("Normalized Signal Intensity", 290, 181, 20, angle=270, align="center"),
    txt("SYGQ LC Residue #", 132, 363, BIG, align="center", baseline="alphabetic"),
    txt("SYGQ LC Residue #", 462, 363, BIG, align="center", baseline="alphabetic"),
    txt("¹⁵N Δδ (ppm)", -40, 612, BIG, angle=270, align="center"),
    txt("Normalized Signal Intensity", 290, 615, 20, angle=270, align="center"),
    txt("RGG Residue #", 134, 860, 18, align="center", baseline="alphabetic"),
    txt("RGG Residue #", 471, 860, 18, align="center", baseline="alphabetic"),
    txt("¹⁵N Δδ (ppm)", 23, 905, 7.5, "#333333", angle=270, align="center"),
    txt("¹⁵N Δδ (ppm)", 229, 901, 7.5, "#333333", angle=270, align="center"),
]

chart = alt.layer(*layers).resolve_scale(x="independent", y="independent").properties(
    width=W, height=H,
    autosize=alt.AutoSizeParams(type="none"),
    padding={"left": 77, "top": 27, "right": 10, "bottom": 58},
).configure_view(stroke="transparent").configure_axis(
    domainColor="#000000", tickColor="#000000", labelColor="#111111", labelFont=FONT,
    labelFontSize=11.5, domainWidth=1, tickWidth=1, labelPadding=2, zindex=1,
)

chart.save("out.html", embed_options={"renderer": "svg", "actions": False})
